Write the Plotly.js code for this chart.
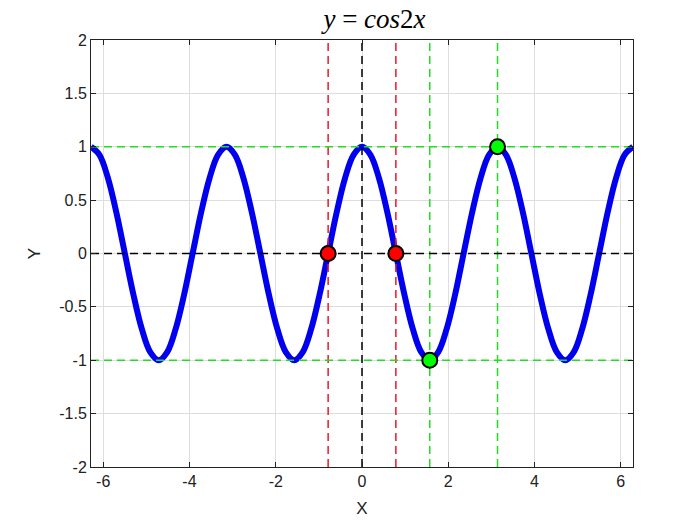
<!DOCTYPE html>
<html>
<head>
<meta charset="utf-8">
<script src="https://cdn.plot.ly/plotly-3.0.1.min.js"></script>
<style>html,body{margin:0;padding:0;background:#fff;}#chart{width:700px;height:525px;}</style>
</head>
<body>
<div id="chart"></div>
<script>
// Curve samples (step of pi/16)
const curveX = [-6.283,-6.087,-5.890,-5.694,-5.498,-5.301,-5.105,-4.909,-4.712,-4.516,-4.320,-4.123,-3.927,-3.731,-3.534,-3.338,
  -3.142,-2.945,-2.749,-2.553,-2.356,-2.160,-1.963,-1.767,-1.571,-1.374,-1.178,-0.982,-0.785,-0.589,-0.393,-0.196,
  0,0.196,0.393,0.589,0.785,0.982,1.178,1.374,1.571,1.767,1.963,2.160,2.356,2.553,2.749,2.945,
  3.142,3.338,3.534,3.731,3.927,4.123,4.320,4.516,4.712,4.909,5.105,5.301,5.498,5.694,5.890,6.087,6.283];
const curveY = [1,0.924,0.707,0.383,0,-0.383,-0.707,-0.924,-1,-0.924,-0.707,-0.383,0,0.383,0.707,0.924,
  1,0.924,0.707,0.383,0,-0.383,-0.707,-0.924,-1,-0.924,-0.707,-0.383,0,0.383,0.707,0.924,
  1,0.924,0.707,0.383,0,-0.383,-0.707,-0.924,-1,-0.924,-0.707,-0.383,0,0.383,0.707,0.924,
  1,0.924,0.707,0.383,0,-0.383,-0.707,-0.924,-1,-0.924,-0.707,-0.383,0,0.383,0.707,0.924,1];
const redX = [-0.785, 0.785];
const redY = [0, 0];
const greenX = [1.571, 3.142];
const greenY = [-1, 1];
const zeroLineX = [0];
const zeroLineY = [0];
const xRange = [-6.283, 6.283];
const yRange = [-2, 2];
const xTicks = [-6,-4,-2,0,2,4,6];
const yTicks = [-2,-1.5,-1,-0.5,0,0.5,1,1.5,2];

const dash = '8px,5px';
const traces = [];
traces.push({x: curveX, y: curveY, mode: 'lines', line: {color: '#0000ee', width: 6, shape: 'spline', smoothing: 1}, hoverinfo: 'skip'});
function vline(x, color){ traces.push({x:[x,x], y: yRange, mode:'lines', line:{color:color, width:1.5, dash:dash}, hoverinfo:'skip'}); }
function hline(y, color){ traces.push({x: xRange, y:[y,y], mode:'lines', line:{color:color, width:1.5, dash:dash}, hoverinfo:'skip'}); }
redX.forEach(x => vline(x, '#e8192c'));
greenX.forEach(x => vline(x, '#22dd22'));
greenY.forEach(y => hline(y, '#22dd22'));
zeroLineX.forEach(x => vline(x, '#000000'));
zeroLineY.forEach(y => hline(y, '#000000'));
traces.push({x: redX, y: redY, mode:'markers', marker:{color:'#ff0000', size:15, line:{color:'#000', width:2}}});
traces.push({x: greenX, y: greenY, mode:'markers', marker:{color:'#00ff00', size:15, line:{color:'#000', width:2}}});

const axisCommon = {
  showgrid: true, gridcolor: '#dedede', gridwidth: 1,
  zeroline: false, showline: true, linecolor: '#222', linewidth: 1, mirror: 'ticks',
  ticks: 'inside', ticklen: 5, tickcolor: '#222',
  tickfont: {family: 'Liberation Sans, Arial, sans-serif', size: 16, color: '#222'}
};
const layout = {
  width: 700, height: 525,
  margin: {l: 91, r: 67, t: 40, b: 58},
  paper_bgcolor: '#fff', plot_bgcolor: '#fff',
  showlegend: false,
  title: {text: '<i>y</i> = <i>cos</i>2<i>x</i>', x: 0.535, xanchor: 'center', y: 0.965, yanchor: 'middle',
          font: {family: 'Liberation Serif, DejaVu Serif, serif', size: 27, color: '#000'}},
  xaxis: Object.assign({}, axisCommon, {range: xRange, tickvals: xTicks, ticktext: xTicks.map(String),
          title: {text: 'X', font: {family: 'Liberation Sans, Arial, sans-serif', size: 17, color: '#222'}, standoff: 12}}),
  yaxis: Object.assign({}, axisCommon, {range: yRange, tickvals: yTicks, ticktext: yTicks.map(String),
          title: {text: 'Y', font: {family: 'Liberation Sans, Arial, sans-serif', size: 17, color: '#222'}, standoff: 14}})
};
Plotly.newPlot('chart', traces, layout, {displayModeBar: false, staticPlot: true});
</script>
</body>
</html>
